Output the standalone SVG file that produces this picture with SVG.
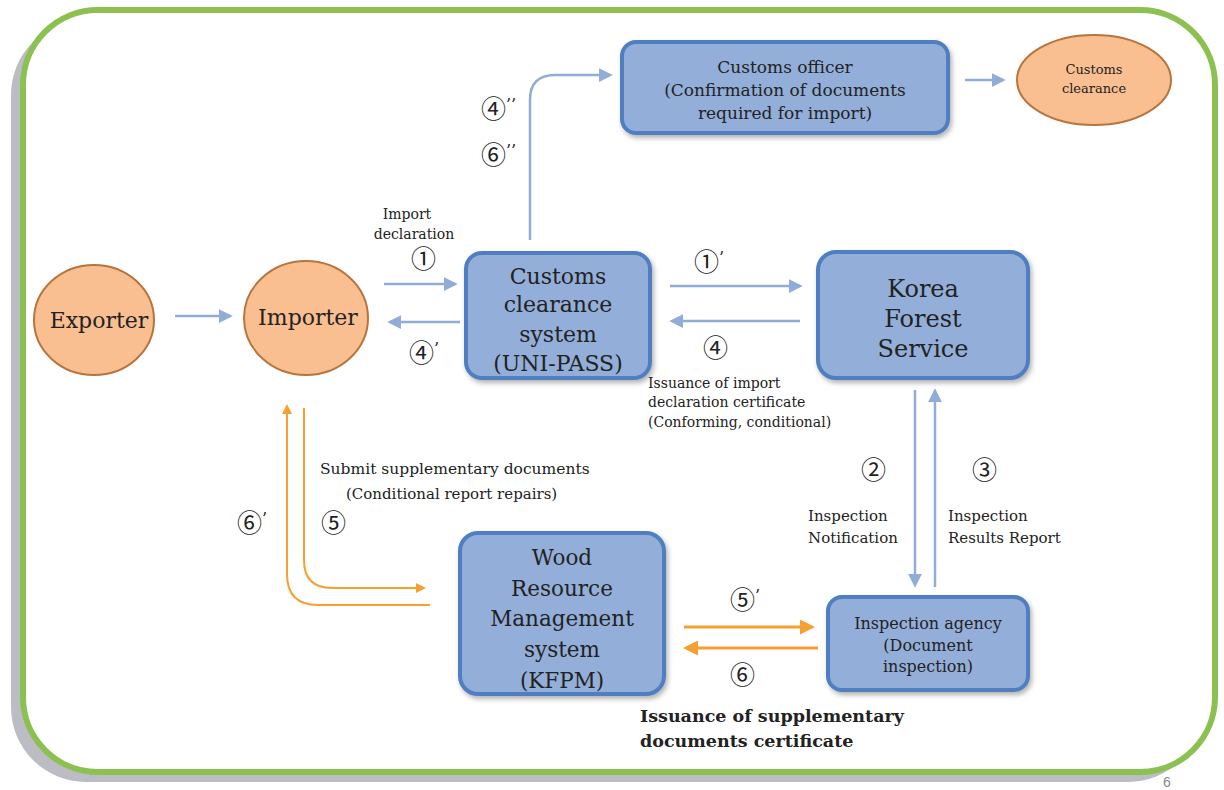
<svg xmlns="http://www.w3.org/2000/svg" width="1224" height="790" viewBox="0 0 1224 790">
<style>
.box{fill:#93afd9;stroke:#4f7fc0;stroke-width:4}
.oval{fill:#f9bf91;stroke:#b8743c;stroke-width:2}
.t{font-family:"DejaVu Serif","Liberation Serif",serif;fill:#222;text-anchor:middle}
.l{font-family:"DejaVu Serif","Liberation Serif",serif;fill:#222}
.n{font-family:"Noto Sans CJK KR","DejaVu Sans",sans-serif;font-size:25px;font-weight:400;fill:#222}
.p{font-family:"DejaVu Serif",serif;font-size:16px}
.b{fill:none;stroke:#8fadd6;stroke-width:2.5}
.o{fill:none;stroke:#f5a030;stroke-width:2}
.o3{fill:none;stroke:#f5a030;stroke-width:3}
</style>
<defs>
<marker id="ab" viewBox="0 0 10 10" refX="8" refY="5" markerWidth="5.5" markerHeight="5.5" orient="auto" markerUnits="strokeWidth"><path d="M0,0 L10,5 L0,10 z" fill="#8fadd6"/></marker>
<marker id="ao" viewBox="0 0 10 10" refX="8" refY="5" markerWidth="5" markerHeight="5" orient="auto" markerUnits="strokeWidth"><path d="M0,0 L10,5 L0,10 z" fill="#f5a030"/></marker>
<marker id="ao3" viewBox="0 0 10 10" refX="8" refY="5" markerWidth="5" markerHeight="5" orient="auto" markerUnits="strokeWidth"><path d="M0,0 L10,5 L0,10 z" fill="#f5a030"/></marker>
<filter id="sh" x="-10%" y="-10%" width="130%" height="130%"><feDropShadow dx="2" dy="3" stdDeviation="2.5" flood-color="#000" flood-opacity="0.3"/></filter>
</defs>
<rect width="1224" height="790" fill="#fff"/>
<rect x="11" y="20" width="1192" height="762" rx="75" fill="#bbbcc4"/>
<rect x="23" y="10" width="1192" height="762" rx="75" fill="#fff" stroke="#8cc152" stroke-width="6"/>
<text x="1163" y="787" font-family="Liberation Sans,sans-serif" font-size="14" fill="#888">6</text>

<g id="connectors">
<path class="b" d="M175,316 L230,316" marker-end="url(#ab)"/>
<path class="b" d="M384,284 L455,284" marker-end="url(#ab)"/>
<path class="b" d="M460,322 L390,322" marker-end="url(#ab)"/>
<path class="b" d="M670,286 L800,286" marker-end="url(#ab)"/>
<path class="b" d="M800,321 L672,321" marker-end="url(#ab)"/>
<path class="b" d="M530,240 L530,100 Q530,75 555,75 L610,75" marker-end="url(#ab)"/>
<path class="b" d="M965,80 L1003,80" marker-end="url(#ab)"/>
<path class="b" d="M915,390 L915,585" marker-end="url(#ab)"/>
<path class="b" d="M935,587 L935,391" marker-end="url(#ab)"/>
<path class="o" d="M304,408 L304,560 Q304,588 332,588 L424,588" marker-end="url(#ao)"/>
<path class="o" d="M430,605 L318,605 Q287,605 287,574 L287,406" marker-end="url(#ao)"/>
<path class="o3" d="M684,627 L812,627" marker-end="url(#ao3)"/>
<path class="o3" d="M818,648 L686,648" marker-end="url(#ao3)"/>
</g>

<g id="customs-officer">
<rect class="box" x="622" y="42" width="326" height="91" rx="14" filter="url(#sh)"/>
<text class="t" font-size="17" x="785" y="73">Customs officer</text>
<text class="t" font-size="17" x="785" y="96">(Confirmation of documents</text>
<text class="t" font-size="17" x="785" y="119">required for import)</text>
</g>
<g id="customs-clearance">
<ellipse class="oval" cx="1094" cy="80" rx="77" ry="45"/>
<text class="t" font-size="13" x="1094" y="74">Customs</text>
<text class="t" font-size="13" x="1094" y="93">clearance</text>
</g>
<g id="exporter">
<ellipse class="oval" cx="94" cy="320" rx="60" ry="55"/>
<text class="t" font-size="22" x="99" y="328">Exporter</text>
</g>
<g id="importer">
<ellipse class="oval" cx="306" cy="318" rx="62" ry="57"/>
<text class="t" font-size="22" x="308" y="325">Importer</text>
</g>
<g id="uni-pass">
<rect class="box" x="466" y="253" width="184" height="125" rx="16" filter="url(#sh)"/>
<text class="t" font-size="22" x="558" y="284">Customs</text>
<text class="t" font-size="22" x="558" y="312">clearance</text>
<text class="t" font-size="22" x="558" y="342">system</text>
<text class="t" font-size="22" x="558" y="371">(UNI-PASS)</text>
</g>
<g id="korea-forest-service">
<rect class="box" x="818" y="252" width="210" height="126" rx="18" filter="url(#sh)"/>
<text class="t" font-size="24" x="923" y="297">Korea</text>
<text class="t" font-size="24" x="923" y="327">Forest</text>
<text class="t" font-size="24" x="923" y="357">Service</text>
</g>
<g id="kfpm">
<rect class="box" x="460" y="533" width="204" height="161" rx="18" filter="url(#sh)"/>
<text class="t" font-size="21.5" x="562" y="565">Wood</text>
<text class="t" font-size="21.5" x="562" y="596">Resource</text>
<text class="t" font-size="21.5" x="562" y="626">Management</text>
<text class="t" font-size="21.5" x="562" y="657">system</text>
<text class="t" font-size="21.5" x="562" y="688">(KFPM)</text>
</g>
<g id="inspection-agency">
<rect class="box" x="828" y="597" width="200" height="93" rx="14" filter="url(#sh)"/>
<text class="t" font-size="16" x="928" y="629">Inspection agency</text>
<text class="t" font-size="16" x="928" y="651">(Document</text>
<text class="t" font-size="16" x="928" y="672">inspection)</text>
</g>

<g id="labels">
<text class="t" font-size="14" x="407" y="219">Import</text>
<text class="t" font-size="14" x="414" y="239">declaration</text>
<text class="n" x="411" y="268">①</text>
<text class="n" x="409" y="362">④<tspan class="p" dy="-8">’</tspan></text>
<text class="n" x="694" y="271">①<tspan class="p" dy="-8">’</tspan></text>
<text class="n" x="703" y="357">④</text>
<text class="l" font-size="14" x="648" y="388">Issuance of import</text>
<text class="l" font-size="14" x="648" y="407">declaration certificate</text>
<text class="l" font-size="14" x="648" y="427">(Conforming, conditional)</text>
<text class="n" x="481" y="118">④<tspan class="p" dy="-8">’’</tspan></text>
<text class="n" x="481" y="164">⑥<tspan class="p" dy="-8">’’</tspan></text>
<text class="n" x="861" y="479">②</text>
<text class="n" x="972" y="479">③</text>
<text class="l" font-size="15" x="808" y="521">Inspection</text>
<text class="l" font-size="15" x="808" y="543">Notification</text>
<text class="l" font-size="15" x="948" y="521">Inspection</text>
<text class="l" font-size="15" x="948" y="543">Results Report</text>
<text class="n" x="730" y="609">⑤<tspan class="p" dy="-8">’</tspan></text>
<text class="n" x="730" y="684">⑥</text>
<text class="l" font-size="17.5" font-weight="bold" x="640" y="722">Issuance of supplementary</text>
<text class="l" font-size="17.5" font-weight="bold" x="640" y="747">documents certificate</text>
<text class="l" font-size="15.5" x="320" y="474">Submit supplementary documents</text>
<text class="l" font-size="15" x="346" y="499">(Conditional report repairs)</text>
<text class="n" x="237" y="532">⑥<tspan class="p" dy="-8">’</tspan></text>
<text class="n" x="321" y="532">⑤</text>
</g>
</svg>
